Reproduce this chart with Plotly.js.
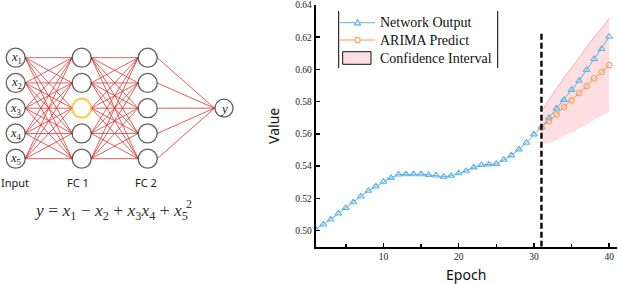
<!DOCTYPE html>
<html><head><meta charset="utf-8">
<script src="https://cdn.plot.ly/plotly-3.0.1.min.js"></script>
<style>html,body{margin:0;padding:0;background:#fff}#chart{width:618px;height:284px}</style>
</head><body><div id="chart"></div>
<script>
// ---------- data ----------
const epochs = [1,2,3,4,5,6,7,8,9,10,11,12,13,14,15,16,17,18,19,20,21,22,23,24,25,26,27,28,29,30,31,32,33,34,35,36,37,38,39,40];
const networkOutput = [0.5008,0.5038,0.5069,0.5106,0.5141,0.5176,0.5212,0.5247,0.5274,0.5303,
  0.5327,0.5348,0.5350,0.5350,0.5350,0.5346,0.5342,0.5335,0.5340,0.5356,
  0.5371,0.5392,0.5407,0.5411,0.5414,0.5440,0.5467,0.5504,0.5545,0.5597,
  0.5640,0.5700,0.5758,0.5811,0.5873,0.5930,0.5997,0.6065,0.6127,0.6203];
const arimaEpochs = [31,32,33,34,35,36,37,38,39,40];
const arimaPredict = [0.5638,0.5679,0.5721,0.5768,0.5808,0.5853,0.5897,0.5945,0.5984,0.6027];
const ciUpper = [0.5740,0.5814,0.5881,0.5948,0.6008,0.6073,0.6137,0.6200,0.6254,0.6317];
const ciLower = [0.5540,0.5544,0.5561,0.5588,0.5608,0.5633,0.5657,0.5690,0.5714,0.5737];
const splitEpoch = 31;
const xTickVals = [10,20,30,40];
const xMinorTickVals = [5,15,25,35];
const yTickVals = [0.50,0.52,0.54,0.56,0.58,0.60,0.62,0.64];
const legendLabels = ['Network Output','ARIMA Predict','Confidence Interval'];
const inputLabels = ['x<sub>1</sub>','x<sub>2</sub>','x<sub>3</sub>','x<sub>4</sub>','x<sub>5</sub>'];
const outputLabel = 'y';
const layerNames = ['Input','FC 1','FC 2'];
const layerSizes = [5,5,5,1];
const highlightNode = [1,2]; // layer 1 (FC 1), node index 2

// ---------- style ----------
const W = 618, H = 284;
const BLUE = 'rgb(95,178,232)';
const ORANGE = 'rgb(244,160,92)';
const PINK = 'rgb(253,222,225)';
const RED = 'rgba(212,45,45,0.85)';
const px = v => v / W;
const py = v => 1 - v / H;

// diagram geometry (pixel coords on x2/y2)
const layerX = [15.7, 81.7, 147.7, 224];
const nodeY0 = 57.7, nodeDy = 25.25;
const nodeR = 9.5;
function nodePos(l, i) {
  if (layerSizes[l] === 1) return [layerX[l], nodeY0 + 2 * nodeDy];
  return [layerX[l], nodeY0 + i * nodeDy];
}

const traces = [];
// connections
const cx = [], cy = [];
for (let l = 0; l < layerSizes.length - 1; l++) {
  for (let i = 0; i < layerSizes[l]; i++) {
    for (let j = 0; j < layerSizes[l + 1]; j++) {
      const a = nodePos(l, i), b = nodePos(l + 1, j);
      cx.push(a[0] + nodeR, b[0] - nodeR, null);
      cy.push(a[1], b[1], null);
    }
  }
}
traces.push({x: cx, y: cy, xaxis: 'x2', yaxis: 'y2', mode: 'lines', type: 'scatter',
  line: {color: RED, width: 0.9}, hoverinfo: 'skip', showlegend: false});
// nodes
const nx = [], ny = [], nc = [], nw = [], ns = [];
for (let l = 0; l < layerSizes.length; l++) {
  for (let i = 0; i < layerSizes[l]; i++) {
    const p = nodePos(l, i);
    nx.push(p[0]); ny.push(p[1]);
    const hl = (l === highlightNode[0] && i === highlightNode[1]);
    nc.push(hl ? 'rgb(245,185,20)' : '#222');
    nw.push(hl ? 2.2 : 1.3);
    ns.push(l === layerSizes.length - 1 ? 18 : 19);
  }
}
traces.push({x: nx, y: ny, xaxis: 'x2', yaxis: 'y2', mode: 'markers', type: 'scatter',
  marker: {symbol: 'circle', size: ns, color: '#fff', line: {color: nc, width: nw}},
  hoverinfo: 'skip', showlegend: false});

// chart traces
traces.push({x: arimaEpochs, y: ciLower, mode: 'lines', type: 'scatter',
  line: {width: 0, color: PINK}, hoverinfo: 'skip', showlegend: false});
traces.push({x: arimaEpochs, y: ciUpper, mode: 'lines', type: 'scatter', fill: 'tonexty',
  fillcolor: PINK, line: {width: 1, color: 'rgb(244,170,195)'}, name: legendLabels[2], showlegend: false});
traces.push({x: epochs, y: networkOutput, mode: 'lines+markers', type: 'scatter', name: legendLabels[0],
  line: {color: BLUE, width: 1}, marker: {symbol: 'triangle-up-open', size: 6, color: BLUE, line: {width: 1.1}},
  showlegend: false});
traces.push({x: arimaEpochs, y: arimaPredict, mode: 'lines+markers', type: 'scatter', name: legendLabels[1],
  line: {color: ORANGE, width: 1}, marker: {symbol: 'circle-open', size: 5.5, color: ORANGE, line: {width: 1.1}},
  showlegend: false});

// ---------- annotations / shapes ----------
const annotations = [];
const shapes = [];
const serif = 'Liberation Serif';
const sans = 'Noto Sans';

// node labels
for (let i = 0; i < layerSizes[0]; i++) {
  const p = nodePos(0, i);
  annotations.push({xref: 'x2', yref: 'y2', x: p[0] + 0.3, y: p[1] + 0.5, text: '<i>' + inputLabels[i].replace('x', 'x</i>'),
    showarrow: false, font: {family: serif, size: 12.5, color: '#222'}, xanchor: 'center', yanchor: 'middle'});
}
{
  const p = nodePos(3, 0);
  annotations.push({xref: 'x2', yref: 'y2', x: p[0], y: p[1] + 0.5, text: '<i>' + outputLabel + '</i>',
    showarrow: false, font: {family: serif, size: 13, color: '#222'}, xanchor: 'center', yanchor: 'middle'});
}
// layer names
const layerNameX = [14.5, 78.2, 145.8];
layerNames.forEach((n, k) => annotations.push({xref: 'x2', yref: 'y2', x: layerNameX[k], y: 182.3, text: n,
  showarrow: false, font: {family: sans, size: 11, color: '#222'}, xanchor: 'center', yanchor: 'middle'}));
// equation
annotations.push({xref: 'x2', yref: 'y2', x: 32, y: 211.5,
  text: '<i>y</i> = <i>x</i><sub>1</sub> − <i>x</i><sub>2</sub> + <i>x</i><sub>3</sub><i>x</i><sub>4</sub> + <i>x</i><sub>5</sub>',
  showarrow: false, font: {family: serif, size: 17.5, color: '#333'}, xanchor: 'left', yanchor: 'middle'});
annotations.push({xref: 'x2', yref: 'y2', x: 188.5, y: 203.5, text: '2',
  showarrow: false, font: {family: serif, size: 12, color: '#333'}, xanchor: 'center', yanchor: 'middle'});

// custom legend
const legY = [22.7, 40, 58.3];
shapes.push({type: 'line', xref: 'paper', yref: 'paper', x0: px(338.7), x1: px(338.7), y0: py(11), y1: py(68), line: {color: '#000', width: 1}});
shapes.push({type: 'line', xref: 'paper', yref: 'paper', x0: px(497.7), x1: px(497.7), y0: py(11), y1: py(68), line: {color: '#000', width: 1}});
shapes.push({type: 'line', xref: 'paper', yref: 'paper', x0: px(340), x1: px(375), y0: py(legY[0]), y1: py(legY[0]), line: {color: BLUE, width: 1}});
shapes.push({type: 'path', xref: 'paper', yref: 'paper',
  path: `M ${px(354.5)} ${py(legY[0] + 2.2)} L ${px(360.5)} ${py(legY[0] + 2.2)} L ${px(357.5)} ${py(legY[0] - 3)} Z`,
  fillcolor: '#fff', line: {color: BLUE, width: 1.1}});
shapes.push({type: 'line', xref: 'paper', yref: 'paper', x0: px(340), x1: px(375), y0: py(legY[1]), y1: py(legY[1]), line: {color: ORANGE, width: 1}});
shapes.push({type: 'circle', xref: 'paper', yref: 'paper', x0: px(354.8), x1: px(360.2), y0: py(legY[1] - 2.7), y1: py(legY[1] + 2.7),
  fillcolor: '#fff', line: {color: ORANGE, width: 1.1}});
shapes.push({type: 'rect', xref: 'paper', yref: 'paper', x0: px(342.7), x1: px(371), y0: py(51.7), y1: py(64.3),
  fillcolor: PINK, line: {color: '#111', width: 1}});
legendLabels.forEach((t, k) => annotations.push({xref: 'paper', yref: 'paper', x: px(377.5), y: py(legY[k]), text: t,
  showarrow: false, font: {family: serif, size: 14, color: '#111'}, xanchor: 'left', yanchor: 'middle'}));

// split line
shapes.push({type: 'line', xref: 'x', yref: 'y', x0: splitEpoch, x1: splitEpoch, y0: 0.49, y1: 0.6234,
  line: {color: '#000', width: 2.4, dash: '6px,3px'}, layer: 'above'});

const layout = {
  width: W, height: H,
  margin: {l: 0, r: 0, t: 0, b: 0},
  paper_bgcolor: '#fff', plot_bgcolor: 'rgba(0,0,0,0)',
  showlegend: false,
  xaxis: {domain: [px(315.7), px(616.7)], range: [1, 41], showgrid: false, zeroline: false,
    showline: true, linecolor: '#000', linewidth: 2, ticks: 'inside', ticklen: 4, tickwidth: 1.5, tickcolor: '#000',
    tickvals: xTickVals, ticktext: xTickVals.map(String),
    minor: {tickvals: xMinorTickVals, ticks: 'inside', ticklen: 2.5, tickwidth: 1.5, tickcolor: '#000', showgrid: false},
    tickfont: {family: serif, size: 9.5, color: '#222'},
    title: {text: 'Epoch', font: {family: sans, size: 14, color: '#111'}, standoff: 10}, automargin: false},
  yaxis: {domain: [1 - 246.7 / H, 1 - 5 / H], range: [0.49, 0.64], showgrid: false, zeroline: false,
    showline: true, linecolor: '#000', linewidth: 2, ticks: 'inside', ticklen: 4, tickwidth: 1.5, tickcolor: '#000',
    tickvals: yTickVals, ticktext: yTickVals.map(v => v.toFixed(2)),
    tickfont: {family: serif, size: 9.5, color: '#222'},
    title: {text: 'Value', font: {family: sans, size: 14, color: '#111'}, standoff: 12}, automargin: false},
  xaxis2: {domain: [0, 0.5], range: [0, 309], visible: false, fixedrange: true},
  yaxis2: {domain: [0, 1], range: [284, 0], visible: false, fixedrange: true, anchor: 'x2'},
  annotations, shapes
};
Plotly.newPlot('chart', traces, layout, {displayModeBar: false, staticPlot: true});
</script></body></html>
